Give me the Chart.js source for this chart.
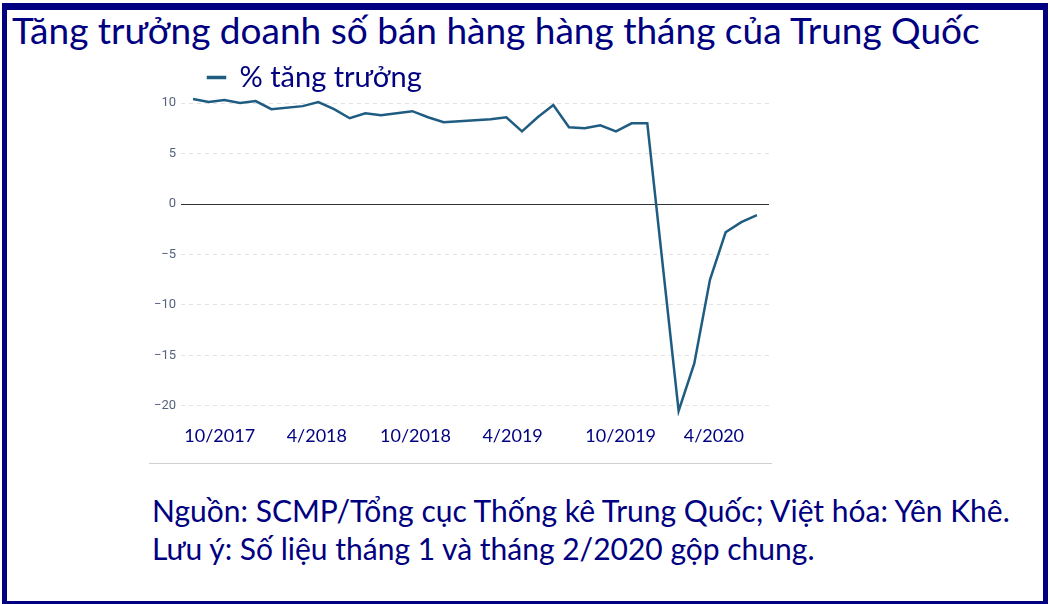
<!DOCTYPE html>
<html>
<head>
<meta charset="utf-8">
<script src="https://cdn.jsdelivr.net/npm/chart.js@4/dist/chart.umd.min.js"></script>
<style>
  body { margin: 0; width: 1050px; height: 604px; background: #fff; position: relative; overflow: hidden; }
  #frame { position: absolute; left: 2px; top: 3px; width: 1046px; height: 603px; box-sizing: border-box;
           border: 5px solid #000080; border-top-width: 7px; }
  #title { position: absolute; left: 12px; top: 7px; font: 37px Lato, sans-serif; color: #000080; white-space: nowrap; }
  #wrap { position: absolute; left: 140px; top: 36px; width: 640px; height: 410px; }
  #rule { position: absolute; left: 149px; top: 463px; width: 623px; height: 1px; background: #cfcfcf; }
  .note { position: absolute; left: 152px; font: 30px Lato, sans-serif; color: #000080; white-space: nowrap; }
</style>
</head>
<body>
<div id="frame"></div>
<div id="title">Tăng trưởng doanh số bán hàng hàng tháng của Trung Quốc</div>
<div id="wrap"><canvas id="chart"></canvas></div>
<div id="rule"></div>
<div class="note" style="top:492px">Nguồn: SCMP/Tổng cục Thống kê Trung Quốc; Việt hóa: Yên Khê.</div>
<div class="note" style="top:530px">Lưu ý: Số liệu tháng 1 và tháng 2/2020 gộp chung.</div>
<script>

/* Data: tháng 1 và tháng 2 gộp chung, nên không có điểm tháng 1 */
const months = [
  "7/2017", "8/2017", "9/2017", "10/2017", "11/2017", "12/2017",
  "2/2018", "3/2018", "4/2018", "5/2018", "6/2018", "7/2018", "8/2018", "9/2018", "10/2018", "11/2018", "12/2018",
  "2/2019", "3/2019", "4/2019", "5/2019", "6/2019", "7/2019", "8/2019", "9/2019", "10/2019", "11/2019", "12/2019",
  "2/2020", "3/2020", "4/2020", "5/2020", "6/2020", "7/2020"
];
const growth = [
  10.4, 10.1, 10.3, 10.0, 10.2, 9.4,
  9.7, 10.1, 9.4, 8.5, 9.0, 8.8, 9.0, 9.2, 8.6, 8.1, 8.2,
  8.4, 8.6, 7.2, 8.6, 9.8, 7.6, 7.5, 7.8, 7.2, 8.0, 8.0,
  -20.5, -15.8, -7.5, -2.8, -1.8, -1.1
];
const seriesLabel = "% tăng trưởng";

// x tick labels and where they sit (months counted from 7/2017)
const xTickLabels = ["10/2017", "4/2018", "10/2018", "4/2019", "10/2019", "4/2020"];
const xTickMonths = [1.7, 7.9, 14.2, 20.4, 27.3, 33.25];
const yTicks = [-20, -15, -10, -5, 0, 5, 10];

function monthIndex(s){
  const [m, y] = s.split("/").map(Number);
  return (y - 2017) * 12 + (m - 7);
}

const points = months.map((m, i) => ({ x: monthIndex(m), y: growth[i] }));

const NAVY = "#000080";
const LINE = "#1f5c82";

/* đường số 0 */
const zeroLine = {
  id: "zeroLine",
  beforeDatasetsDraw(chart){
    const {ctx, chartArea, scales} = chart;
    const y = Math.round(scales.y.getPixelForValue(0)) + 0.5;
    ctx.save();
    ctx.strokeStyle = "#333";
    ctx.lineWidth = 1;
    ctx.beginPath();
    ctx.moveTo(chartArea.left, y);
    ctx.lineTo(chartArea.right, y);
    ctx.stroke();
    ctx.restore();
  }
};

new Chart(document.getElementById("chart"), {
  type: "line",
  data: {
    datasets: [{
      label: seriesLabel,
      data: points,
      borderColor: LINE,
      backgroundColor: LINE,
      borderWidth: 2.5,
      pointRadius: 0,
      tension: 0
    }]
  },
  plugins: [zeroLine],
  options: {
    responsive: true,
    maintainAspectRatio: false,
    animation: false,
    layout: { padding: { left: 0, right: 11, top: 0, bottom: 0 } },
    plugins: {
      title: { display: false },
      tooltip: { enabled: false },
      legend: {
        display: true,
        position: "top",
        align: "start",
        fullSize: false,
        maxHeight: 57,
        labels: {
          boxWidth: 17,
          boxHeight: 1,
          padding: 27,
          color: NAVY,
          font: { family: "Lato", size: 29 }
        }
      }
    },
    scales: {
      x: {
        type: "linear",
        min: -0.77,
        max: 36.77,
        afterBuildTicks: (scale) => { scale.ticks = xTickMonths.map(v => ({ value: v })); },
        afterFit: (scale) => { scale.height = 30; },
        grid: { display: false },
        border: { display: false },
        ticks: {
          autoSkip: false,
          maxRotation: 0,
          padding: 1,
          color: NAVY,
          font: { family: "Lato", size: 18 },
          callback: (v, i) => xTickLabels[i]
        }
      },
      y: {
        min: -21,
        max: 11,
        afterBuildTicks: (scale) => { scale.ticks = yTicks.map(v => ({ value: v })); },
        afterFit: (scale) => { scale.width = 41; },
        grid: { color: "#e2e2e2", lineWidth: 1, drawTicks: false },
        border: { display: false, dash: [4, 4] },
        ticks: {
          padding: 5,
          color: "#55627f",
          font: { family: "Roboto", size: 13 },
          callback: (v) => v < 0 ? "\u2212" + Math.abs(v) : String(v)
        }
      }
    }
  }
});
</script>
</body>
</html>
